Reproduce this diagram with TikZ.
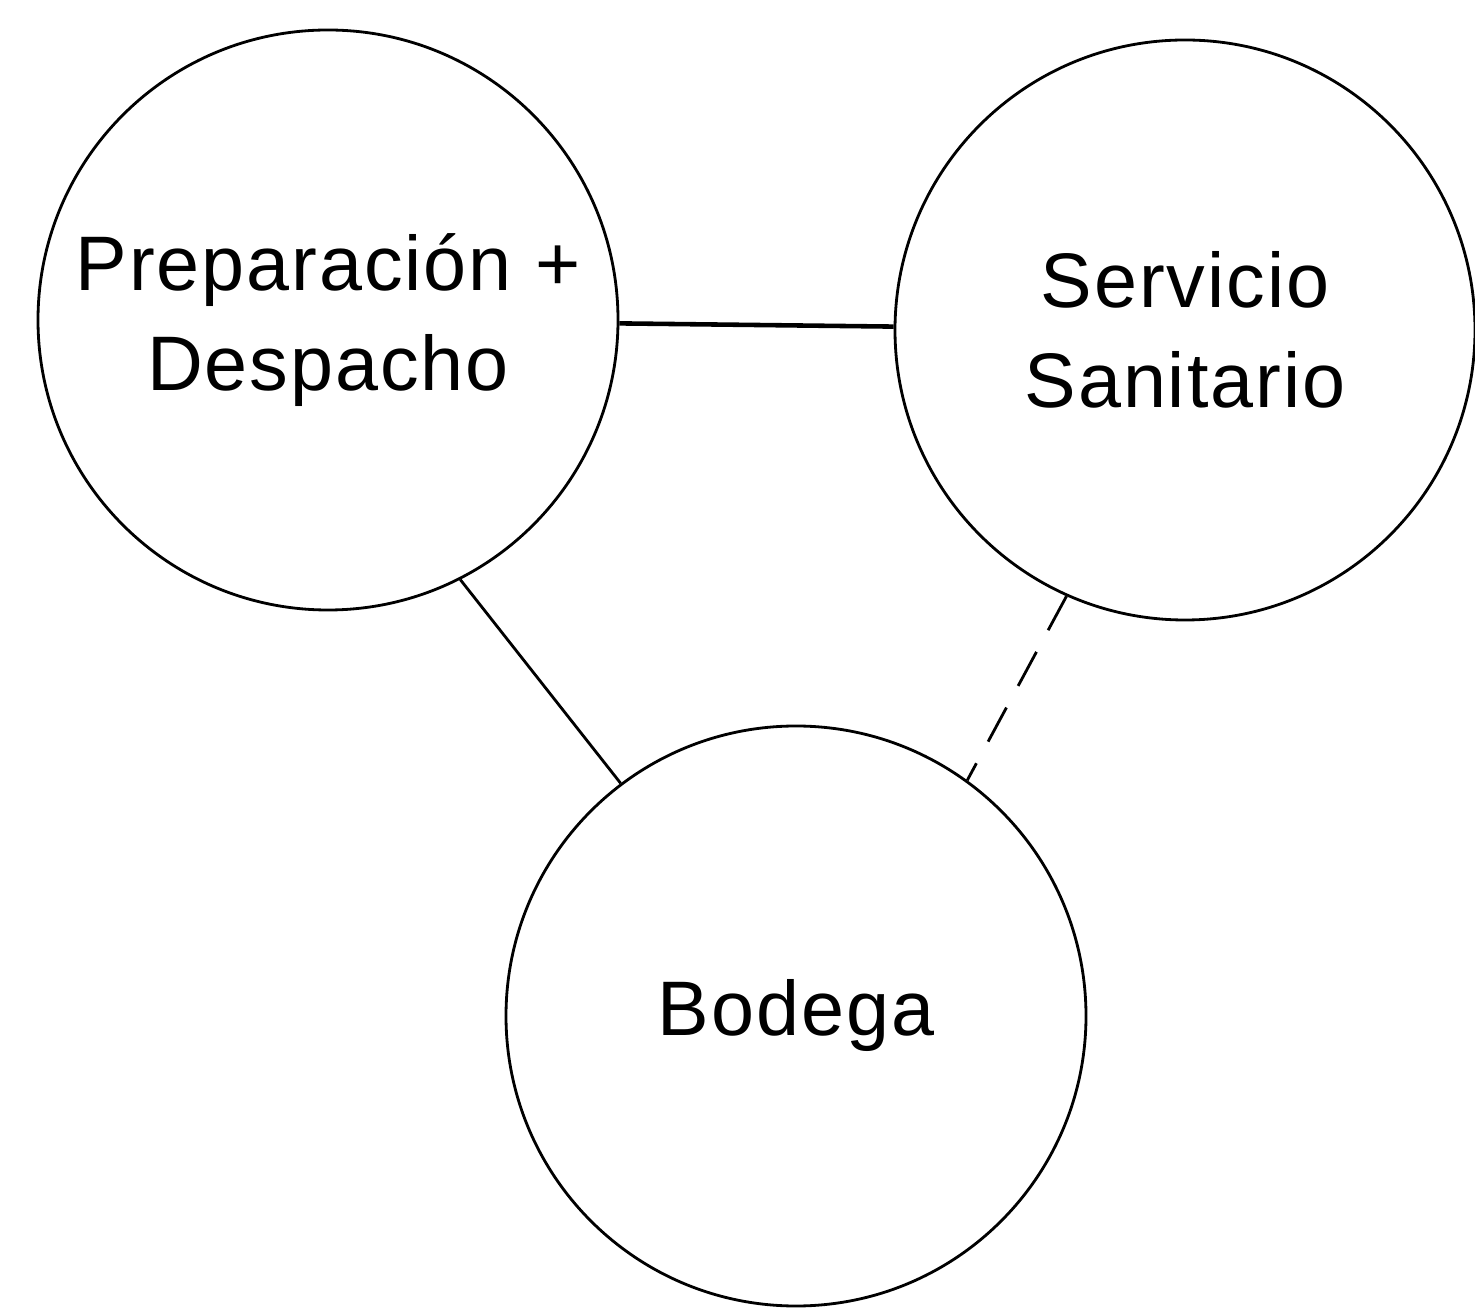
\documentclass[tikz,border=0pt]{standalone}
\usepackage{fontspec}
\setmainfont{Liberation Sans}
\usepackage{tikz}
\usetikzlibrary{positioning}

\begin{document}
\begin{tikzpicture}[
    area/.style={draw, circle, minimum size=5.8cm, inner sep=0pt,
                 line width=0.8pt, align=center,
                 font=\fontsize{22}{28.5}\selectfont\addfontfeature{LetterSpace=2.5}},
    link/.style={line width=0.8pt},
    weak/.style={line width=0.8pt, dash pattern=on 11pt off 7pt}]
  \useasboundingbox (0,0) rectangle (14.75,13.13);

  \node[area] (prep) at (3.28,9.93) {Preparación +\\Despacho};
  \node[area] (serv) at (11.85,9.83) {Servicio\\Sanitario};
  \node[area] (bodega) at (7.96,2.97) {Bodega};

  \draw[link, line width=1.3pt] (prep) -- (serv);
  \draw[link] (prep.-63) -- (bodega.127);
  \draw[weak] (serv.246) -- (bodega.54);
\end{tikzpicture}
\end{document}
